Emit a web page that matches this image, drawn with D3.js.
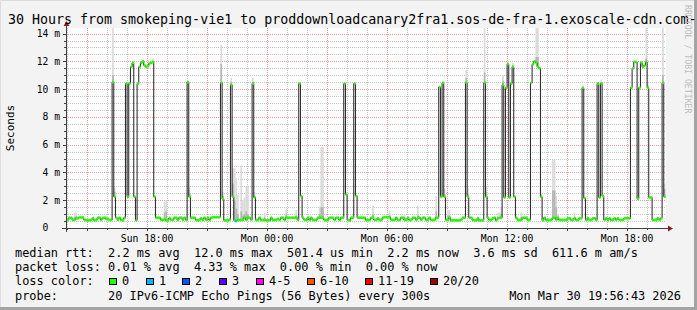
<!DOCTYPE html>
<html>
<head>
<meta charset="utf-8">
<script src="https://cdn.jsdelivr.net/npm/d3@7"></script>
<style>
html, body { margin: 0; padding: 0; background: #f3f3f3; }
svg { display: block; }
text { font-family: "DejaVu Sans Mono", monospace; white-space: pre; }
</style>
</head>
<body>
<div id="chart"></div>
<script>
const width = 697;
const height = 310;
const plot = { left: 66, right: 666, top: 28, bottom: 228 };

const titleText = "30 Hours from smokeping-vie1 to proddownloadcanary2fra1.sos-de-fra-1.exoscale-cdn.com-";
const startTime = Date.UTC(2026, 2, 29, 13, 56, 43);
const endTime = Date.UTC(2026, 2, 30, 19, 56, 43);
const firstSample = Date.UTC(2026, 2, 29, 13, 55);
const stepMs = 300 * 1000;

// median rtt (ms) of each 5 minute sample, one row per hour
const medianRows = [
    [0.55, 0.58, 0.74, 0.74, 0.58, 0.60, 0.70, 0.70, 0.76, 0.76, 0.76, 0.60],
    [0.55, 0.55, 0.55, 0.58, 0.70, 0.55, 0.58, 0.74, 0.74, 0.58, 0.72, 0.74],
    [0.65, 0.66, 0.58, 0.58, 10.5, 2.25, 0.74, 0.60, 0.74, 0.58, 0.55, 0.74],
    [10.4, 2.25, 10.4, 11.6, 11.9, 2.25, 0.55, 10.4, 11.6, 11.9, 12.0, 11.7],
    [11.6, 11.65, 11.85, 11.9, 11.95, 2.25, 0.74, 0.74, 0.74, 0.60, 0.58, 0.62],
    [0.55, 0.55, 0.72, 0.60, 0.58, 0.74, 0.74, 0.58, 0.74, 0.74, 0.60, 0.74],
    [0.58, 10.5, 2.25, 0.74, 0.74, 0.74, 0.58, 0.55, 0.60, 0.70, 0.58, 0.74],
    [0.60, 0.74, 0.58, 0.74, 0.78, 0.78, 0.78, 0.78, 0.78, 10.45, 2.1, 0.55],
    [0.55, 0.55, 0.60, 10.3, 2.25, 0.55, 0.50, 0.58, 0.58, 0.58, 0.60, 0.74],
    [0.60, 0.74, 0.74, 0.60, 10.4, 2.2, 0.58, 0.58, 0.74, 0.58, 0.58, 0.58],
    [0.55, 0.55, 0.55, 0.74, 0.58, 0.58, 0.60, 0.65, 0.58, 0.74, 0.74, 0.58],
    [0.74, 0.74, 0.74, 0.74, 0.74, 0.74, 0.76, 0.58, 10.4, 2.3, 0.74, 0.60],
    [0.58, 0.74, 0.58, 0.74, 0.58, 0.58, 0.58, 0.74, 0.74, 0.74, 0.74, 0.58],
    [0.55, 0.58, 0.74, 0.74, 0.74, 0.58, 0.74, 0.74, 0.58, 0.74, 0.74, 10.4],
    [2.4, 0.58, 0.55, 0.74, 0.74, 10.4, 2.3, 0.74, 0.74, 0.74, 0.74, 0.74],
    [0.58, 0.58, 0.58, 0.74, 0.74, 0.58, 0.58, 0.70, 0.58, 0.58, 0.74, 0.78],
    [0.78, 0.78, 0.78, 0.60, 0.58, 0.58, 0.74, 0.58, 0.58, 0.74, 0.74, 0.58],
    [0.60, 0.74, 0.58, 0.58, 0.74, 0.74, 0.60, 0.74, 0.74, 0.60, 0.74, 0.74],
    [0.58, 0.60, 0.74, 0.58, 0.58, 0.60, 0.74, 0.74, 10.15, 2.25, 10.45, 2.25],
    [0.58, 0.58, 0.74, 0.55, 0.55, 0.55, 0.55, 0.55, 0.55, 0.60, 0.74, 0.74],
    [10.45, 2.25, 0.74, 0.74, 0.58, 0.55, 0.55, 0.70, 0.55, 0.55, 0.55, 10.45],
    [2.25, 0.74, 0.58, 0.58, 0.70, 0.74, 0.55, 0.70, 0.74, 0.74, 10.3, 2.2],
    [10.1, 11.8, 2.2, 10.4, 11.6, 2.25, 0.74, 0.58, 0.58, 0.58, 0.74, 0.74],
    [0.74, 0.58, 0.58, 10.45, 11.8, 12.0, 11.9, 11.6, 11.5, 2.25, 0.55, 0.74],
    [0.58, 0.58, 0.58, 0.58, 0.74, 0.74, 0.60, 0.74, 0.58, 0.58, 0.58, 0.58],
    [0.58, 0.70, 0.70, 0.58, 0.58, 0.70, 0.58, 0.58, 0.70, 0.70, 10.1, 2.15],
    [0.58, 0.70, 0.58, 0.58, 0.70, 0.70, 0.58, 10.4, 2.2, 10.4, 2.3, 0.58],
    [0.70, 0.58, 0.70, 0.58, 0.58, 0.70, 0.58, 0.70, 0.58, 0.58, 0.58, 0.70],
    [0.70, 0.70, 0.70, 10.1, 11.5, 11.97, 11.95, 2.1, 10.1, 11.9, 11.6, 11.7],
    [11.95, 10.1, 2.2, 2.2, 0.58, 0.58, 0.58, 0.70, 0.58, 0.70, 10.45, 2.25]
];

// visible smoke: [sample index, highest ping (ms), upper edge of the dense part (ms)]
const smoke = [
    [5, 1.1, 0.8], [6, 1.1, 0.85], [24, 0.9, 0.75], [28, 14.4, 11.0], [29, 2.9, 2.6],
    [52, 12.2, 12.05], [59, 1.9, 1.1], [60, 2.0, 1.2], [74, 2.9, 2.5], [93, 13.2, 11.8],
    [94, 2.6, 2.3], [99, 10.8, 10.5], [100, 4.3, 3.2], [101, 4.3, 2.0], [102, 3.6, 1.4],
    [103, 2.4, 1.0], [105, 4.5, 1.2], [106, 2.0, 0.9], [107, 2.2, 1.0], [108, 3.0, 1.2],
    [109, 3.0, 1.0], [112, 10.8, 10.5], [113, 2.6, 2.3], [119, 1.1, 0.8], [132, 1.4, 1.0],
    [138, 1.3, 0.9], [152, 1.5, 1.0], [153, 5.85, 1.5], [154, 5.85, 1.5], [168, 2.6, 2.45],
    [184, 1.6, 1.0], [194, 1.25, 0.9], [203, 1.0, 0.8], [211, 1.6, 0.9], [222, 2.3, 1.2],
    [227, 2.8, 2.4], [229, 1.3, 0.9], [230, 1.3, 0.9], [240, 11.4, 10.8], [241, 2.9, 2.5],
    [251, 14.4, 11.2], [252, 3.0, 2.6], [259, 1.1, 0.8], [260, 1.1, 0.8], [261, 1.5, 1.0],
    [262, 11.0, 10.6], [268, 11.9, 11.7], [273, 1.1, 0.8], [282, 14.4, 12.3], [283, 14.4, 12.3],
    [285, 2.5, 2.35], [292, 4.9, 2.7], [293, 4.9, 2.7], [294, 2.3, 1.5], [295, 0.95, 0.8],
    [305, 1.1, 0.8], [321, 10.7, 10.5], [322, 1.5, 1.0], [348, 14.4, 12.2], [349, 10.4, 10.2],
    [358, 14.4, 11.0], [359, 3.2, 2.8]
];

// samples with lost pings: [sample index, lost pings of 20]
const lossSamples = [[102, 1]];

const lossLabels = ["0", "1", "2", "3", "4-5", "6-10", "11-19", "20/20"];
const lossColors = ["#26ff00", "#00b8ff", "#0059ff", "#5e00ff", "#ff00ff", "#ff5500", "#ff0000", "#a00000"];
const lossUpper = [0, 1, 2, 3, 5, 10, 19, 20];

const yTickValues = [0, 2, 4, 6, 8, 10, 12, 14];
const yMax = 14.4;

const legendLines = [
    "median rtt:  2.2 ms avg  12.0 ms max  501.4 us min  2.2 ms now  3.6 ms sd  611.6 m am/s",
    "packet loss: 0.01 % avg  4.33 % max  0.00 % min  0.00 % now",
    "loss color:",
    "probe:       20 IPv6-ICMP Echo Pings (56 Bytes) every 300s"
];
const footerDate = "Mon Mar 30 19:56:43 2026";

const median = medianRows.flat();
const nbsp = s => s.replace(/ /g, "\u00a0");

const x = d3.scaleUtc().domain([startTime, endTime]).range([plot.left, plot.right]);
const y = d3.scaleLinear().domain([0, yMax]).range([plot.bottom, plot.top]);
const sampleTime = i => firstSample + i * stepMs;

function lossColor(n) {
    const i = lossUpper.findIndex(u => n <= u);
    return lossColors[i < 0 ? 0 : i];
}

const svg = d3.select("#chart")
    .append("svg")
    .attr("width", width)
    .attr("height", height);

// canvas and its shaded border
svg.append("rect").attr("width", width).attr("height", height).attr("fill", "#f3f3f3");
svg.append("path")
    .attr("d", `M0.5,${height}V0.5H${width}`)
    .attr("fill", "none").attr("stroke", "#dcdcdc");
svg.append("path")
    .attr("d", `M0,${height - 1.5}H${width - 1.5}V0`)
    .attr("fill", "none").attr("stroke", "#a4a4a4").attr("stroke-width", 3);

svg.append("rect")
    .attr("x", plot.left).attr("y", plot.top)
    .attr("width", plot.right - plot.left).attr("height", plot.bottom - plot.top)
    .attr("fill", "#ffffff");

svg.append("clipPath").attr("id", "plotClip")
    .append("rect")
    .attr("x", plot.left).attr("y", plot.top)
    .attr("width", plot.right - plot.left).attr("height", plot.bottom - plot.top);

// grid
const grid = svg.append("g").attr("shape-rendering", "crispEdges");
const hourTicks = x.ticks(d3.utcHour.every(1));
const majorX = hourTicks.filter(d => d.getUTCHours() % 3 === 0);
const minorY = d3.range(1, Math.floor(yMax * 2) + 1).map(d => d / 2).filter(d => d % 2 !== 0);

grid.selectAll(".minorY").data(minorY).enter().append("line")
    .attr("x1", plot.left).attr("x2", plot.right)
    .attr("y1", d => Math.round(y(d)) + 0.5).attr("y2", d => Math.round(y(d)) + 0.5)
    .attr("stroke", "#c4c4c4").attr("stroke-dasharray", "1,1");
grid.selectAll(".minorX").data(hourTicks.filter(d => d.getUTCHours() % 3 !== 0)).enter().append("line")
    .attr("x1", d => Math.round(x(d)) + 0.5).attr("x2", d => Math.round(x(d)) + 0.5)
    .attr("y1", plot.top).attr("y2", plot.bottom)
    .attr("stroke", "#c4c4c4").attr("stroke-dasharray", "1,1");
grid.selectAll(".majorY").data(yTickValues.filter(d => d > 0)).enter().append("line")
    .attr("x1", plot.left).attr("x2", plot.right)
    .attr("y1", d => Math.round(y(d)) + 0.5).attr("y2", d => Math.round(y(d)) + 0.5)
    .attr("stroke", "#e89c9c").attr("stroke-dasharray", "1,1");
grid.selectAll(".majorX").data(majorX).enter().append("line")
    .attr("x1", d => Math.round(x(d)) + 0.5).attr("x2", d => Math.round(x(d)) + 0.5)
    .attr("y1", plot.top).attr("y2", plot.bottom)
    .attr("stroke", "#e89c9c").attr("stroke-dasharray", "1,1");

// data
const data = svg.append("g").attr("clip-path", "url(#plotClip)");

data.selectAll(".smokeOuter").data(smoke).enter().append("rect")
    .attr("x", d => x(sampleTime(d[0])))
    .attr("width", d => x(sampleTime(d[0] + 1)) - x(sampleTime(d[0])))
    .attr("y", d => y(d[1]))
    .attr("height", d => Math.max(0, y(median[d[0]]) - y(d[1])))
    .attr("fill", "#dadada");
data.selectAll(".smokeInner").data(smoke).enter().append("rect")
    .attr("x", d => x(sampleTime(d[0])))
    .attr("width", d => x(sampleTime(d[0] + 1)) - x(sampleTime(d[0])))
    .attr("y", d => y(d[2]))
    .attr("height", d => Math.max(0, y(median[d[0]]) - y(d[2])))
    .attr("fill", "#b4b4b4");

const linePoints = median.map((m, i) => [x(sampleTime(i)), y(m)]);
linePoints.push([x(sampleTime(median.length)), y(median[median.length - 1])]);
data.append("path")
    .attr("d", d3.line().curve(d3.curveStepAfter)(linePoints))
    .attr("fill", "none")
    .attr("stroke", "#202020")
    .attr("stroke-width", 1);

const lossBySample = new Map(lossSamples);
data.selectAll(".band").data(median).enter().append("rect")
    .attr("x", (d, i) => x(sampleTime(i)))
    .attr("width", (d, i) => x(sampleTime(i + 1)) - x(sampleTime(i)) + 0.2)
    .attr("y", d => y(d) - 1.3)
    .attr("height", 2.6)
    .attr("fill", (d, i) => lossColor(lossBySample.get(i) || 0));

// axes
const axisColor = "#404040";
const arrowColor = "#8e1d1d";
const axes = svg.append("g").attr("shape-rendering", "crispEdges");
axes.append("line")
    .attr("x1", plot.left - 4).attr("x2", plot.right + 3)
    .attr("y1", plot.bottom + 0.5).attr("y2", plot.bottom + 0.5)
    .attr("stroke", axisColor);
axes.append("line")
    .attr("x1", plot.left + 0.5).attr("x2", plot.left + 0.5)
    .attr("y1", plot.bottom + 4).attr("y2", plot.top - 3)
    .attr("stroke", axisColor);
axes.selectAll(".xtick").data(hourTicks).enter().append("line")
    .attr("x1", d => Math.round(x(d)) + 0.5).attr("x2", d => Math.round(x(d)) + 0.5)
    .attr("y1", plot.bottom).attr("y2", d => plot.bottom + (d.getUTCHours() % 3 === 0 ? 3 : 2))
    .attr("stroke", axisColor);
axes.selectAll(".ytick").data(d3.range(0, Math.floor(yMax * 2) + 1).map(d => d / 2)).enter().append("line")
    .attr("x1", d => plot.left - (d % 2 === 0 ? 3 : 2)).attr("x2", plot.left)
    .attr("y1", d => Math.round(y(d)) + 0.5).attr("y2", d => Math.round(y(d)) + 0.5)
    .attr("stroke", axisColor);

svg.append("path")
    .attr("d", `M${plot.left - 2.5},${plot.top - 2}L${plot.left + 3.5},${plot.top - 2}L${plot.left + 0.5},${plot.top - 7}Z`)
    .attr("fill", arrowColor);
svg.append("path")
    .attr("d", `M${plot.right + 2},${plot.bottom - 2.5}L${plot.right + 2},${plot.bottom + 3.5}L${plot.right + 7},${plot.bottom + 0.5}Z`)
    .attr("fill", arrowColor);

// tick labels
svg.selectAll(".ylabel").data(yTickValues).enter().append("text")
    .attr("x", plot.left - 6)
    .attr("y", d => y(d))
    .attr("dy", "0.36em")
    .attr("text-anchor", "end")
    .attr("font-size", "9.7px")
    .attr("fill", "#000")
    .text(d => d === 0 ? "0\u00a0\u00a0" : nbsp(d + " m"));

svg.selectAll(".xlabel").data(x.ticks(d3.utcHour.every(6))).enter().append("text")
    .attr("x", d => x(d))
    .attr("y", plot.bottom + 13.5)
    .attr("text-anchor", "middle")
    .attr("font-size", "9.7px")
    .attr("fill", "#000")
    .text(d => nbsp(d3.utcFormat("%a %H:%M")(d)));

// titles
svg.append("text")
    .attr("x", 8).attr("y", 24)
    .attr("font-size", "13.3px")
    .attr("fill", "#000")
    .text(nbsp(titleText));

svg.append("text")
    .attr("transform", "translate(14,128) rotate(-90)")
    .attr("text-anchor", "middle")
    .attr("font-size", "11px")
    .attr("fill", "#000")
    .text("Seconds");

svg.append("text")
    .attr("transform", "translate(685,5) rotate(90)")
    .attr("font-size", "8.2px")
    .attr("fill", "#bdbdbd")
    .text(nbsp("RRDTOOL / TOBI OETIKER"));

// legend
const legendY = [257.2, 271.3, 285, 299.5];
svg.selectAll(".legend").data(legendLines).enter().append("text")
    .attr("x", 15)
    .attr("y", (d, i) => legendY[i])
    .attr("font-size", "11.9px")
    .attr("fill", "#000")
    .text(d => nbsp(d));

const swatchX = [109, 145.5, 182, 219, 255.5, 306.5, 365, 430];
const swatches = svg.selectAll(".swatch").data(lossLabels).enter().append("g")
    .attr("transform", (d, i) => `translate(${Math.round(swatchX[i])},278)`);
swatches.append("rect")
    .attr("x", 0.5).attr("y", 0)
    .attr("width", 6.5).attr("height", 6.5)
    .attr("fill", (d, i) => lossColors[i])
    .attr("stroke", "#000")
    .attr("shape-rendering", "crispEdges");
swatches.append("text")
    .attr("x", 13)
    .attr("y", legendY[2] - 278)
    .attr("font-size", "11.9px")
    .attr("fill", "#000")
    .text(d => d);

svg.append("text")
    .attr("x", 681).attr("y", legendY[3])
    .attr("text-anchor", "end")
    .attr("font-size", "11.9px")
    .attr("fill", "#000")
    .text(nbsp(footerDate));
</script>
</body>
</html>
